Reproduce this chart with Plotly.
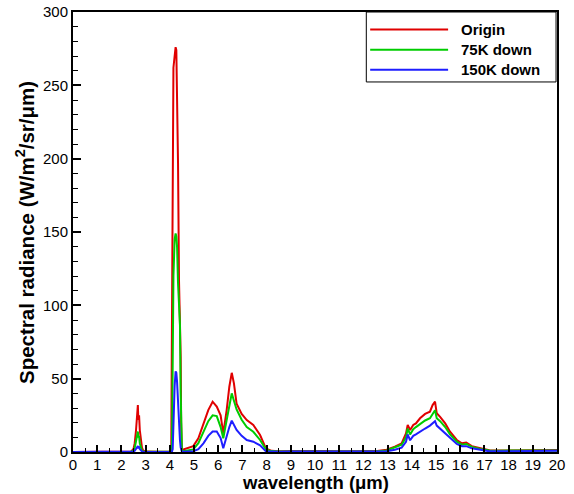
import plotly.graph_objects as go

wavelength = [0, 1, 2, 2.4, 2.5, 2.55, 2.6, 2.65, 2.68, 2.7, 2.73, 2.76, 2.8, 2.85, 2.9, 3.0, 3.5,
              4.0, 4.06, 4.09, 4.12, 4.15, 4.2, 4.24, 4.27, 4.3, 4.34, 4.38, 4.42, 4.45, 4.47, 4.5,
              4.56, 4.97, 5.18, 5.39, 5.59, 5.77, 5.94, 6.10, 6.21, 6.35, 6.46, 6.56, 6.65, 6.76,
              6.97, 7.18, 7.45, 7.73, 7.97, 8.2, 8.5, 9, 9.5, 10, 10.5, 11, 11.5, 12, 12.5,
              12.96, 13.3, 13.58, 13.76, 13.83, 13.93, 14.06, 14.17, 14.34, 14.55, 14.75, 14.86,
              14.96, 15.03, 15.17, 15.38, 15.58, 15.86, 16.07, 16.25, 16.48, 16.83, 17.2, 17.5,
              18, 18.5, 19, 19.5, 20]

origin = [0, 0, 0.1, 0.3, 2, 6, 14, 26, 32, 22, 25, 15, 8, 3, 1, 0.3, 0.2,
          0.3, 3, 78, 150, 262, 270, 276, 274, 241, 197, 117, 90, 65, 20, 2,
          1.8, 4, 9.3, 19.5, 28.6, 34.3, 31, 25, 12.7, 28.6, 44.5, 54, 46.8, 33,
          26, 21.8, 18.4, 11.6, 2.5, 0.8, 0.5, 0.6, 0.8, 0.5, 0.7, 0.5, 0.4, 0.4, 0.6,
          1.5, 3.6, 5.9, 12.7, 18.4, 15, 18.4, 19.5, 23, 26, 27.5, 32,
          34.3, 26.4, 24, 19.5, 13.8, 8.2, 5.9, 6.4, 4, 2.5, 1.2, 1,
          1, 1.1, 1.2, 1.2, 1.3]

down75 = [0, 0, 0, 0.2, 1, 3, 7, 12, 14, 10, 11, 6, 3, 1, 0.4, 0.2, 0.1,
          0.2, 1, 5, 60, 120, 145, 149, 147, 140, 115, 100, 87, 40, 5, 0.8,
          0.5, 1.8, 6, 14, 21, 25, 24.5, 17, 9.3, 21.8, 33, 40, 35, 29,
          22, 17, 13.8, 8.2, 1.8, 0.6, 0.4, 0.5, 0.6, 0.4, 0.5, 0.4, 0.3, 0.3, 0.4,
          1, 3, 5, 10, 16, 12, 15.5, 17, 19, 21.5, 23, 26,
          28.5, 23, 21, 17, 12, 7, 5, 5.5, 3.5, 2, 1, 0.9,
          0.9, 1, 1, 1.1, 1.1]

down150 = [0, 0, 0, 0.1, 0.3, 0.8, 2, 3.5, 4, 3, 3.3, 2, 1, 0.4, 0.2, 0.1, 0,
           0.1, 0.2, 0.3, 2, 20, 45, 55, 54, 48, 32, 18, 8, 3, 1, 0.3,
           0.2, 0.5, 2, 5.9, 11, 14, 14, 9.5, 2.5, 11.6, 17, 21.4, 18, 15,
           11, 8.2, 7, 4.5, 0.5, 0.3, 0.2, 0.3, 0.3, 0.2, 0.3, 0.2, 0.2, 0.2, 0.2,
           0.5, 1.5, 3, 7, 12, 8, 11, 12, 14, 16, 18, 19.5,
           21, 18, 16, 13, 9.5, 5.5, 4, 4, 2.5, 1.3, 0.5, 0.5,
           0.6, 0.7, 0.8, 0.8, 0.9]

series_names = ["Origin", "75K down", "150K down"]
series_colors = ["#e00000", "#00cc00", "#1e1eff"]
series_values = [origin, down75, down150]

x_title = "wavelength (μm)"
y_title = "Spectral radiance (W/m<sup>2</sup>/sr/μm)"

FONT = "Liberation Sans, Arial, sans-serif"

fig = go.Figure()
for name, color, vals in zip(series_names, series_colors, series_values):
    fig.add_trace(go.Scatter(x=wavelength, y=vals, mode="lines", name=name,
                             line=dict(color=color, width=2), showlegend=False))

# custom legend (long line samples like the reference)
legend_rows = [0.960, 0.914, 0.869]
shapes = [dict(type="rect", xref="paper", yref="paper", x0=0.606, x1=0.998, y0=0.841, y1=1.0,
               line=dict(color="black", width=1), fillcolor="white", layer="above")]
annotations = []
for name, color, yy in zip(series_names, series_colors, legend_rows):
    shapes.append(dict(type="line", xref="paper", yref="paper", x0=0.614, x1=0.775, y0=yy, y1=yy,
                       line=dict(color=color, width=2), layer="above"))
    annotations.append(dict(text=name, xref="paper", yref="paper", x=0.797, y=yy,
                            xanchor="left", yanchor="middle", showarrow=False,
                            font=dict(family=FONT, size=15, color="black", weight="bold")))

# axis titles
annotations.append(dict(text=x_title, xref="paper", yref="paper", x=0.5, y=-0.0955,
                        xanchor="center", yanchor="bottom", yshift=-1, showarrow=False,
                        font=dict(family=FONT, size=18.5, color="black", weight="bold")))
annotations.append(dict(text=y_title, xref="paper", yref="paper", x=-0.0992, y=0.5,
                        xanchor="center", yanchor="middle", textangle=-90, showarrow=False,
                        font=dict(family=FONT, size=20.5, color="black", weight="bold")))

fig.update_layout(
    width=574, height=494,
    margin=dict(l=73, r=17, t=12, b=42),
    paper_bgcolor="white", plot_bgcolor="white",
    font=dict(family=FONT, size=15, color="black"),
    shapes=shapes, annotations=annotations,
)
fig.update_xaxes(
    range=[0, 20], dtick=1, tick0=0, showgrid=False, zeroline=False, automargin=False,
    showline=True, linecolor="black", linewidth=2, mirror=True,
    ticks="inside", ticklen=7, tickwidth=1.5, tickcolor="black", ticklabelstandoff=-2,
    minor=dict(dtick=0.5, ticks="inside", ticklen=4, tickcolor="black", tickwidth=1),
    tickfont=dict(family=FONT, size=15),
)
fig.update_yaxes(
    range=[0, 300], dtick=50, tick0=0, showgrid=False, zeroline=False, automargin=False,
    showline=True, linecolor="black", linewidth=2, mirror=True,
    ticks="inside", ticklen=8, tickwidth=1.5, tickcolor="black",
    minor=dict(dtick=10, ticks="inside", ticklen=5, tickcolor="black", tickwidth=1),
    tickfont=dict(family=FONT, size=15),
)

fig.write_html("out.html")
